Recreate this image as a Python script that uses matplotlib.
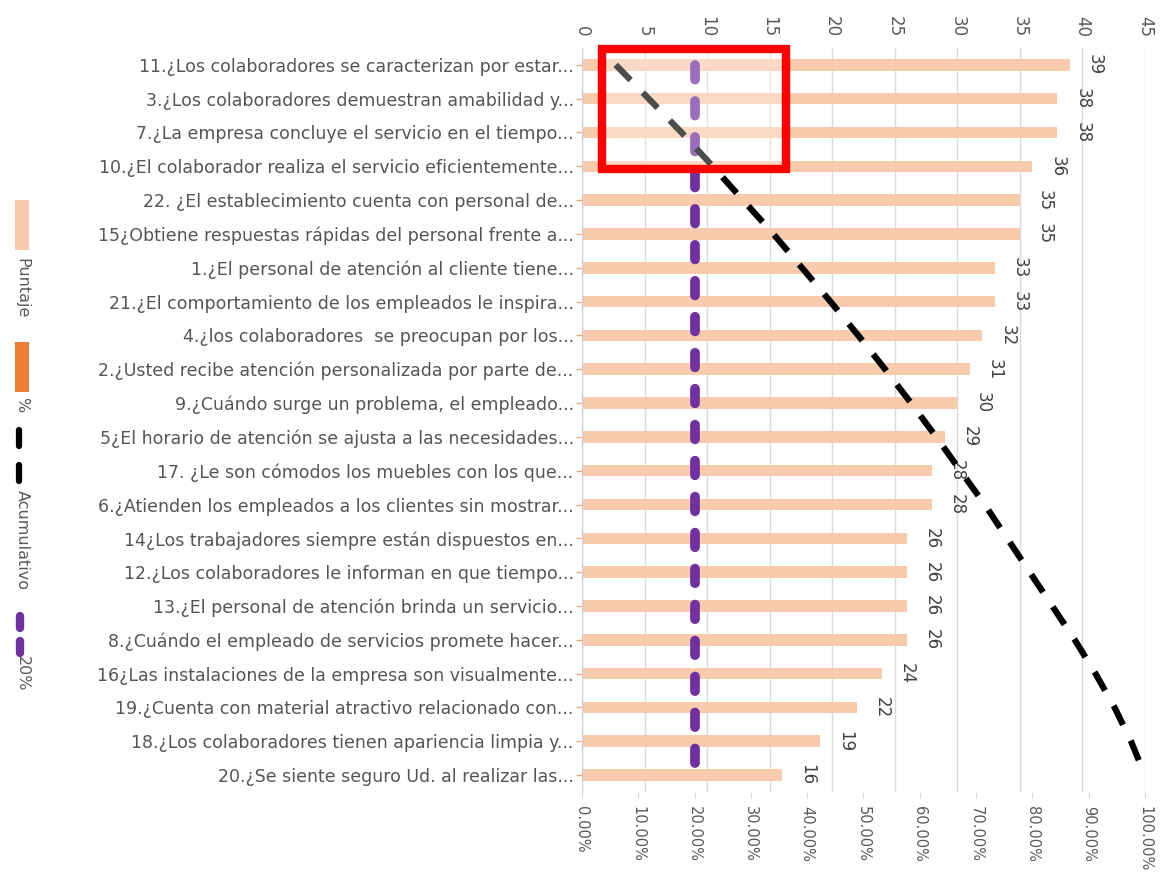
import matplotlib.pyplot as plt
import matplotlib.ticker as mticker
from matplotlib.patches import Rectangle
from matplotlib.lines import Line2D
import numpy as np

# data
preguntas = [
    "11.¿Los colaboradores se caracterizan por estar...",
    "3.¿Los colaboradores demuestran amabilidad y...",
    "7.¿La empresa concluye el servicio en el tiempo...",
    "10.¿El colaborador realiza el servicio eficientemente...",
    "22. ¿El establecimiento cuenta con personal de...",
    "15¿Obtiene respuestas rápidas del personal frente a...",
    "1.¿El personal de atención al cliente tiene...",
    "21.¿El comportamiento de los empleados le inspira...",
    "4.¿los colaboradores  se preocupan por los...",
    "2.¿Usted recibe atención personalizada por parte de...",
    "9.¿Cuándo surge un problema, el empleado...",
    "5¿El horario de atención se ajusta a las necesidades...",
    "17. ¿Le son cómodos los muebles con los que...",
    "6.¿Atienden los empleados a los clientes sin mostrar...",
    "14¿Los trabajadores siempre están dispuestos en...",
    "12.¿Los colaboradores le informan en que tiempo...",
    "13.¿El personal de atención brinda un servicio...",
    "8.¿Cuándo el empleado de servicios promete hacer...",
    "16¿Las instalaciones de la empresa son visualmente...",
    "19.¿Cuenta con material atractivo relacionado con...",
    "18.¿Los colaboradores tienen apariencia limpia y...",
    "20.¿Se siente seguro Ud. al realizar las...",
]
puntaje = [39, 38, 38, 36, 35, 35, 33, 33, 32, 31, 30, 29, 28, 28, 26, 26, 26, 26, 24, 22, 19, 16]
acumulativo = [0.0600, 0.1185, 0.1769, 0.2323, 0.2862, 0.3400, 0.3908, 0.4415, 0.4908, 0.5385, 0.5846,
               0.6292, 0.6723, 0.7154, 0.7554, 0.7954, 0.8354, 0.8754, 0.9123, 0.9462, 0.9754, 1.0000]
umbral = [0.20] * len(puntaje)

count_ticks = [0, 5, 10, 15, 20, 25, 30, 35, 40, 45]
pct_ticks = [0.0, 0.1, 0.2, 0.3, 0.4, 0.5, 0.6, 0.7, 0.8, 0.9, 1.0]

# colours
C_BAR = '#F8CBAD'
C_PCT = '#ED7D31'
C_PURPLE = '#7030A0'
C_TXT = '#595959'

plt.rcParams['font.family'] = ['DejaVu Sans']

fig = plt.figure(figsize=(11.63, 8.75), dpi=100)
ax = fig.add_axes([0.5004, 0.0949, 0.4840, 0.8503])
ax2 = ax.twiny()

y = np.arange(len(puntaje))
ax.barh(y, puntaje, height=0.34, color=C_BAR, zorder=2)

# primary (count) axis on top
ax.set_xlim(0, 45)
ax.set_ylim(len(puntaje) - 0.5, -0.5)
ax.xaxis.set_ticks_position('top')
ax.xaxis.set_label_position('top')
ax.set_xticks(count_ticks)
ax.set_xticklabels([str(t) for t in count_ticks], rotation=-90, fontsize=12, color=C_TXT)
ax.tick_params(axis='x', which='both', top=True, bottom=False, labeltop=True,
               labelbottom=False, length=0, pad=8)
ax.grid(axis='x', color='#D9D9D9', lw=1, zorder=0)
ax.set_axisbelow(True)

ax.set_yticks(y)
ax.set_yticklabels(preguntas, fontsize=12.5, color='#555555')
ax.tick_params(axis='y', length=4, width=1, color='#E3A982', pad=2)

for s in ['top', 'right', 'bottom']:
    ax.spines[s].set_visible(False)
ax.spines['left'].set_color('#C5D0DC')

# data labels
for yi, v in zip(y, puntaje):
    ax.text(v + 2.0, yi, str(v), rotation=-90, ha='center', va='center',
            fontsize=12, color='#404040', zorder=4)

# secondary (percent) axis on the bottom
ax2.set_xlim(0, 1)
ax2.set_xticks(pct_ticks)
ax2.xaxis.set_major_formatter(mticker.FuncFormatter(lambda v, p: '%.2f%%' % (v * 100)))
ax2.tick_params(axis='x', which='both', top=False, bottom=True, labeltop=False,
                labelbottom=True, length=4, color='#D9D9D9', labelsize=10.5,
                labelcolor=C_TXT, pad=6, labelrotation=-90)
for s in ax2.spines.values():
    s.set_visible(False)

ax2.plot(umbral, y, color=C_PURPLE, lw=7, dashes=(1.5, 2.2),
         dash_capstyle='round', zorder=3)
ax2.plot(acumulativo, y, color='black', lw=4.5, dashes=(3.4, 2.8),
         dash_capstyle='butt', zorder=3)

# red highlight box
rect = Rectangle((602 / 1163, 1 - 169 / 875), 184 / 1163, 120 / 875,
                 transform=fig.transFigure, facecolor=(1, 1, 1, 0.3),
                 edgecolor='#FF0000', lw=6, zorder=5)
fig.add_artist(rect)

# rotated legend on the left
def fx(px):
    return px / 1163

def fy(py):
    return 1 - py / 875

fig.add_artist(Rectangle((fx(15), fy(250)), fx(14), 50 / 875, transform=fig.transFigure,
                         facecolor=C_BAR, edgecolor='none', zorder=6))
fig.text(fx(22), fy(288), 'Puntaje', rotation=-90, ha='center', va='center',
         fontsize=11.5, color=C_TXT, zorder=6)
fig.add_artist(Rectangle((fx(15), fy(392)), fx(14), 50 / 875, transform=fig.transFigure,
                         facecolor=C_PCT, edgecolor='none', zorder=6))
fig.text(fx(22), fy(405), '%', rotation=-90, ha='center', va='center',
         fontsize=11.5, color=C_TXT, zorder=6)
for a, b in [(430, 446), (465, 481)]:
    fig.add_artist(Line2D([fx(19), fx(19)], [fy(a), fy(b)], transform=fig.transFigure,
                          color='black', lw=4.5, solid_capstyle='round', zorder=6))
fig.text(fx(22), fy(540), 'Acumulativo', rotation=-90, ha='center', va='center',
         fontsize=11.5, color=C_TXT, zorder=6)
for a, b in [(616, 628), (641, 653)]:
    fig.add_artist(Line2D([fx(20), fx(20)], [fy(a), fy(b)], transform=fig.transFigure,
                          color=C_PURPLE, lw=6, solid_capstyle='round', zorder=6))
fig.text(fx(22), fy(674), '20%', rotation=-90, ha='center', va='center',
         fontsize=11.5, color=C_TXT, zorder=6)

fig.savefig('out.png', dpi=100)
